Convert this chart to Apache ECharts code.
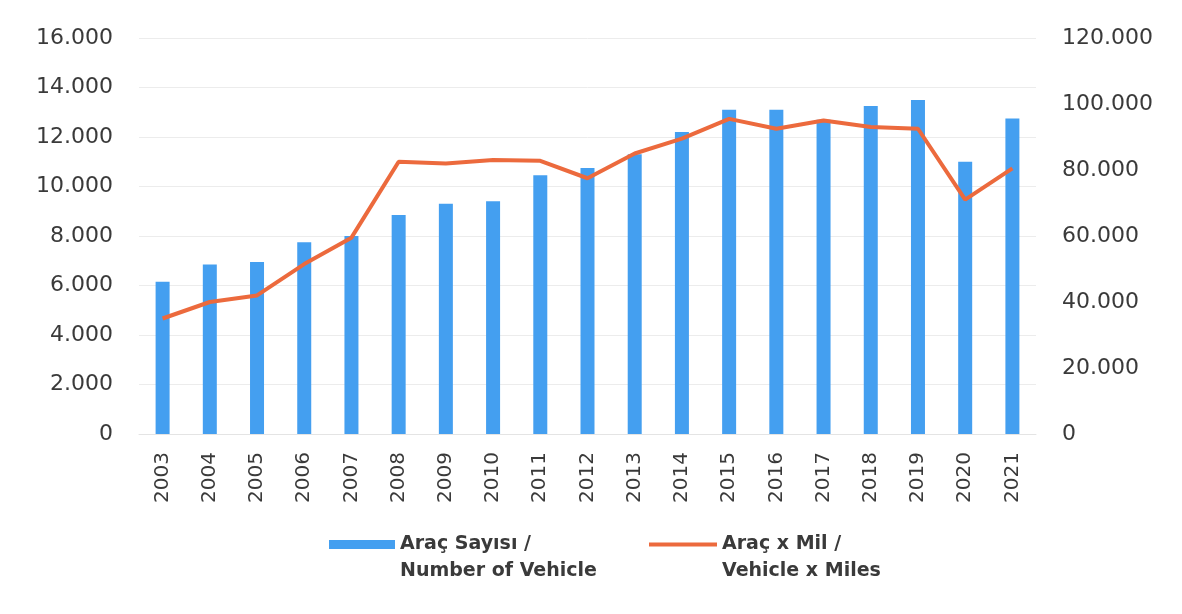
<!DOCTYPE html>
<html>
<head>
<meta charset="utf-8">
<script src="https://cdn.jsdelivr.net/npm/echarts@6/dist/echarts.min.js"></script>
<style>html,body{margin:0;padding:0;background:#fff}#c{width:1182px;height:614px}</style>
</head>
<body>
<div id="c"></div>
<script>
const years = ['2003','2004','2005','2006','2007','2008','2009','2010','2011','2012','2013','2014','2015','2016','2017','2018','2019','2020','2021'];
const vehicles = [6150,6850,6950,7750,8000,8850,9300,9400,10450,10750,11300,12200,13100,13100,12700,13250,13500,11000,12750];
const vehicleMiles = [35000,40000,42000,51500,59500,82500,82000,83000,82800,77500,85000,89500,95500,92500,95000,93000,92500,71000,80500];
const leftTicks = {min:0, max:16000, interval:2000};
const rightTicks = {min:0, max:120000, interval:20000};
const barName = 'Araç Sayısı /\nNumber of Vehicle';
const lineName = 'Araç x Mil /\nVehicle x Miles';

const fmt = v => String(v).replace(/\B(?=(\d{3})+(?!\d))/g, '.');
const chart = echarts.init(document.getElementById('c'));
const axisFont = {fontFamily:'DejaVu Sans', fontSize:22, color:'#3a3a3a'};
const legendText = {fontFamily:'DejaVu Sans', fontSize:19, fontWeight:'bold', color:'#3a3a3a', lineHeight:27};
chart.setOption({
  backgroundColor:'#ffffff',
  animation:false,
  grid:{left:139, right:146, top:38, bottom:180},
  legend:[
    {left:324, top:499, data:[barName], itemWidth:66, itemHeight:9, icon:'rect', textStyle:legendText,
     selectedMode:false, formatter:n => '\n' + n},
    {left:644, top:499, data:[lineName], itemWidth:68, itemHeight:4, icon:'rect', itemGap:0, textStyle:legendText,
     selectedMode:false, formatter:n => '\n' + n}
  ],
  xAxis:{
    type:'category', data:years,
    axisLine:{show:true, lineStyle:{color:'#e4e4e4'}},
    axisTick:{show:false},
    axisLabel:Object.assign({rotate:90, margin:18, interval:0}, axisFont, {fontSize:20})
  },
  yAxis:[
    {type:'value', min:leftTicks.min, max:leftTicks.max, interval:leftTicks.interval,
     axisLabel:Object.assign({margin:26, formatter:fmt}, axisFont),
     splitLine:{lineStyle:{color:'#ececec'}}, axisLine:{show:false}, axisTick:{show:false}},
    {type:'value', min:rightTicks.min, max:rightTicks.max, interval:rightTicks.interval,
     axisLabel:Object.assign({margin:26, formatter:fmt}, axisFont),
     splitLine:{show:false}, axisLine:{show:false}, axisTick:{show:false}}
  ],
  series:[
    {name:barName, type:'bar', data:vehicles, barWidth:14, itemStyle:{color:'#449ff0'}, yAxisIndex:0},
    {name:lineName, type:'line', data:vehicleMiles, yAxisIndex:1, symbol:'none',
     lineStyle:{color:'#ec6a3d', width:4}, itemStyle:{color:'#ec6a3d'}}
  ]
});
</script>
</body>
</html>
